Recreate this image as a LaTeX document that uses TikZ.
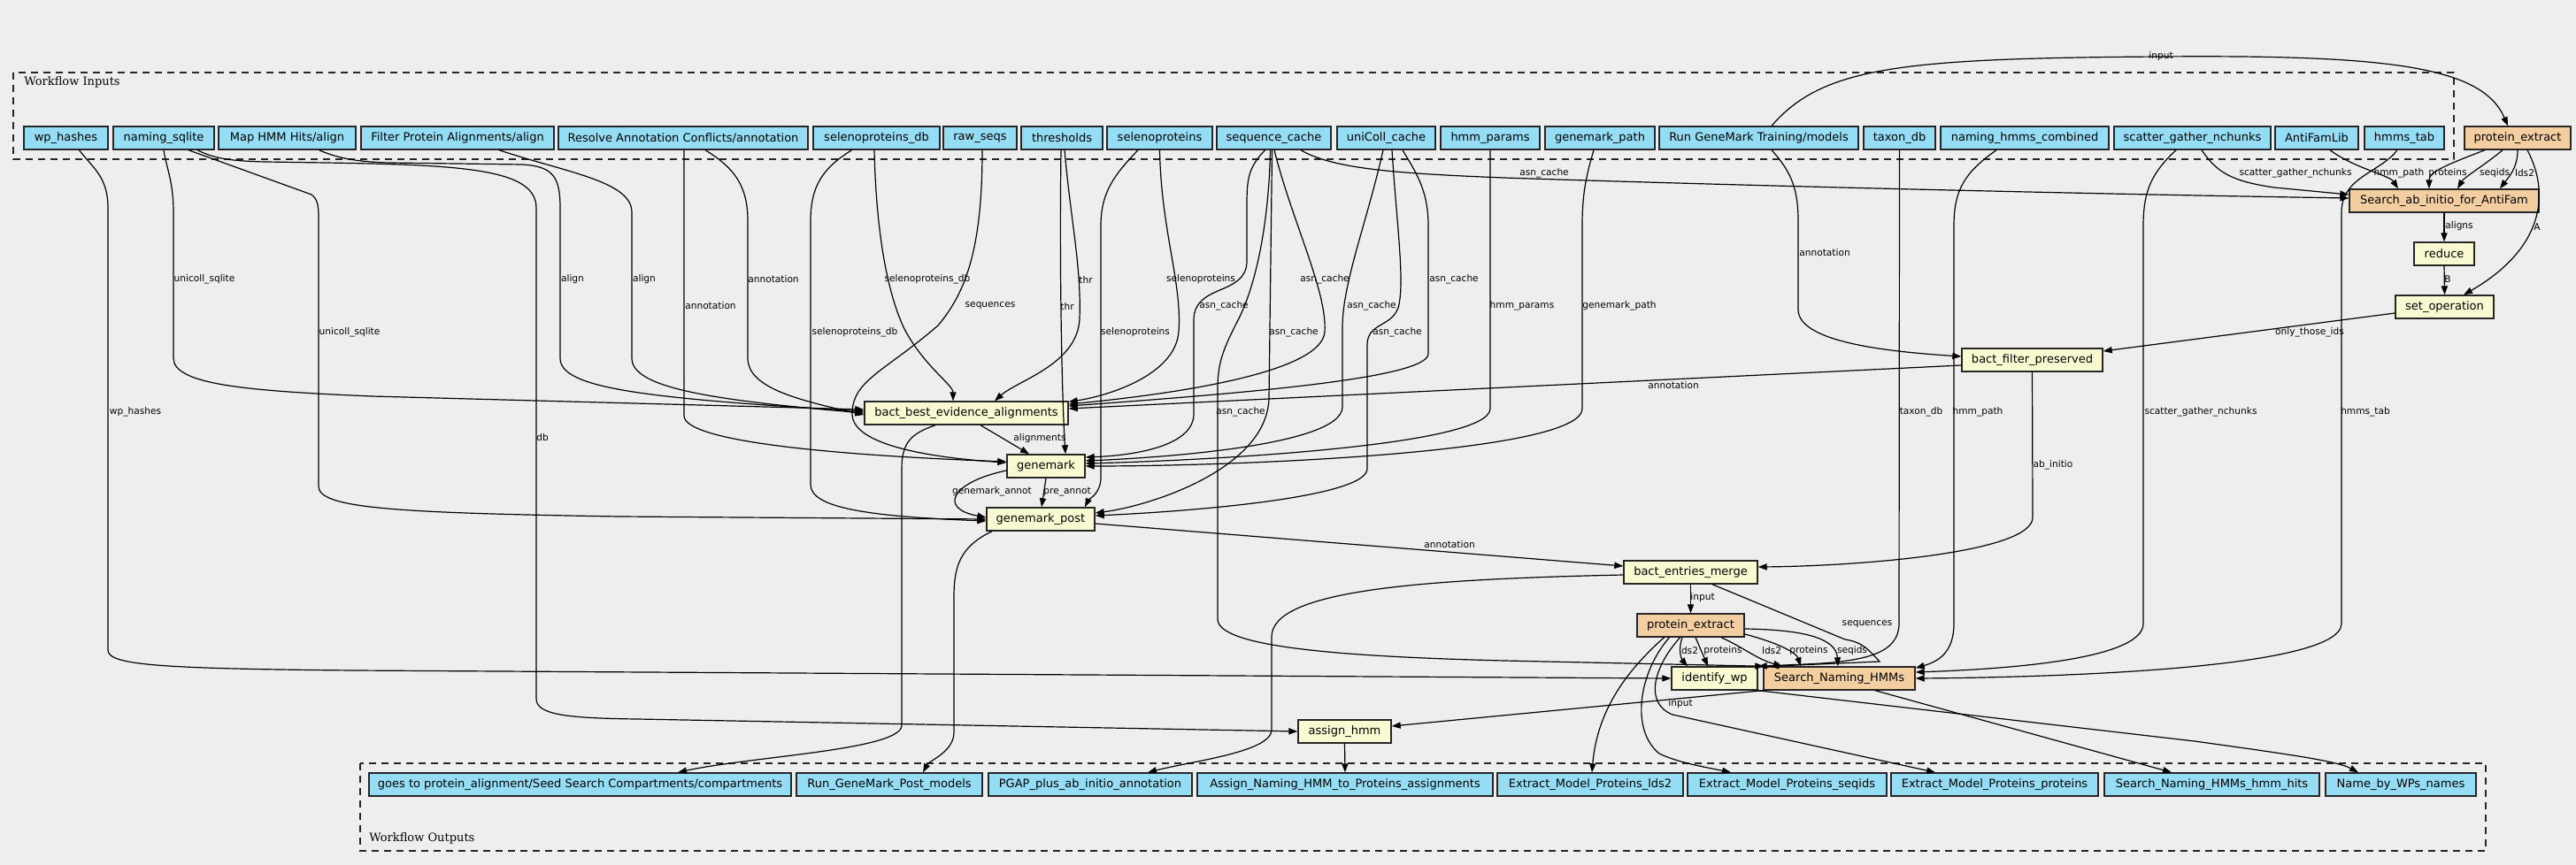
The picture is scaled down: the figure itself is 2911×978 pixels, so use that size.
\documentclass[tikz,border=0pt]{standalone}
\usepackage{fontspec}
\setmainfont{DejaVu Sans}
\newfontfamily\serfam{DejaVu Serif}
\usetikzlibrary{arrows.meta}
\definecolor{bgc}{HTML}{EEEEEE}
\definecolor{inblue}{HTML}{94DDF4}
\definecolor{stepy}{HTML}{FAFAD2}
\definecolor{subor}{HTML}{F3CEA1}
\newcommand\ndfont{\fontsize{6.5pt}{7pt}\selectfont}
\newcommand\lbfont{\fontsize{5.3pt}{6pt}\selectfont}
\newcommand\clfont{\serfam\fontsize{6.5pt}{7pt}\selectfont}
\newcommand\mkbox[6]{%
  \pgfmathsetmacro\bw{(#4-#3)*0.5}%
  \pgfmathsetmacro\bcx{(#3+#4)/2}%
  \node[#1, minimum width=\bw pt, minimum height=13pt] (#2) at (\bcx,#5) {#6};}
\begin{document}
\begin{tikzpicture}[x=0.5pt,y=-0.5pt,
  boxbase/.style={draw=black!85, line width=0.7pt, inner sep=0pt, font=\ndfont, text=black},
  inb/.style={boxbase, fill=inblue},
  stp/.style={boxbase, fill=stepy},
  sub/.style={boxbase, fill=subor},
  lbl/.style={inner sep=0pt, font=\lbfont},
  clus/.style={draw=black!85, line width=0.8pt, dash pattern=on 4pt off 3pt},
  clbl/.style={inner sep=0pt, font=\clfont, anchor=west},
  e/.style={draw=black, line width=0.6pt, -{Triangle[length=5pt,width=3.6pt]}}]
\useasboundingbox (0,0) rectangle (2911,978);
\fill[bgc] (0,0) rectangle (2911,978);
% clusters
\draw[clus] (15,82) rectangle (2773,180);
\node[clbl] (cin) at (27,93) {Workflow Inputs};
\draw[clus] (407,863) rectangle (2809,962);
\node[clbl] (cout) at (417,948) {Workflow Outputs};
% inputs
\mkbox{inb}{wp}{27}{122}{156}{wp\_hashes}
\mkbox{inb}{nsq}{128}{242}{156}{naming\_sqlite}
\mkbox{inb}{mhh}{247}{402}{156}{Map HMM Hits/align}
\mkbox{inb}{fpa}{408}{626}{156}{Filter Protein Alignments/align}
\mkbox{inb}{rac}{631}{913}{156}{Resolve Annotation Conflicts/annotation}
\mkbox{inb}{sdb}{919}{1062}{156}{selenoproteins\_db}
\mkbox{inb}{raw}{1066}{1149}{156}{raw\_seqs}
\mkbox{inb}{thr}{1154}{1246}{156}{thresholds}
\mkbox{inb}{sel}{1251}{1370}{156}{selenoproteins}
\mkbox{inb}{seqc}{1375}{1504}{156}{sequence\_cache}
\mkbox{inb}{uni}{1511}{1622}{156}{uniColl\_cache}
\mkbox{inb}{hmmp}{1628}{1740}{156}{hmm\_params}
\mkbox{inb}{gmp}{1746}{1870}{156}{genemark\_path}
\mkbox{inb}{rgm}{1875}{2100}{156}{Run GeneMark Training/models}
\mkbox{inb}{tax}{2106}{2187}{156}{taxon\_db}
\mkbox{inb}{nhc}{2193}{2383}{156}{naming\_hmms\_combined}
\mkbox{inb}{sgn}{2389}{2566}{156}{scatter\_gather\_nchunks}
\mkbox{inb}{afl}{2571}{2665}{156}{AntiFamLib}
\mkbox{inb}{hmt}{2672}{2762}{156}{hmms\_tab}
\mkbox{sub}{pe1}{2785}{2905}{156}{protein\_extract}
% steps
\mkbox{sub}{sab}{2655}{2869}{227}{Search\_ab\_initio\_for\_AntiFam}
\mkbox{stp}{red}{2728}{2796}{287}{reduce}
\mkbox{stp}{setop}{2707}{2818}{347}{set\_operation}
\mkbox{stp}{bfp}{2217}{2376}{407}{bact\_filter\_preserved}
\mkbox{stp}{bbea}{977}{1207}{467}{bact\_best\_evidence\_alignments}
\mkbox{stp}{gm}{1138}{1226}{527}{genemark}
\mkbox{stp}{gmp2}{1115}{1237}{587}{genemark\_post}
\mkbox{stp}{bem}{1835}{1986}{647}{bact\_entries\_merge}
\mkbox{sub}{pe2}{1850}{1971}{707}{protein\_extract}
\mkbox{stp}{iwp}{1889}{1986}{767}{identify\_wp}
\mkbox{sub}{snh}{1993}{2164}{767}{Search\_Naming\_HMMs}
\mkbox{stp}{ahmm}{1467}{1572}{827}{assign\_hmm}
% outputs
\mkbox{inb}{o1}{417}{894}{887}{goes to protein\_alignment/Seed Search Compartments/compartments}
\mkbox{inb}{o2}{900}{1110}{887}{Run\_GeneMark\_Post\_models}
\mkbox{inb}{o3}{1117}{1347}{887}{PGAP\_plus\_ab\_initio\_annotation}
\mkbox{inb}{o4}{1353}{1687}{887}{Assign\_Naming\_HMM\_to\_Proteins\_assignments}
\mkbox{inb}{o5}{1692}{1902}{887}{Extract\_Model\_Proteins\_lds2}
\mkbox{inb}{o6}{1907}{2132}{887}{Extract\_Model\_Proteins\_seqids}
\mkbox{inb}{o7}{2137}{2371}{887}{Extract\_Model\_Proteins\_proteins}
\mkbox{inb}{o8}{2378}{2621}{887}{Search\_Naming\_HMMs\_hmm\_hits}
\mkbox{inb}{o9}{2628}{2798}{887}{Name\_by\_WPs\_names}
% edges
\draw[e] ([xshift=7.5pt]wp.south) .. controls (105,190) and (122,200) .. (122,235) -- (122,735) .. controls (122,752) and (180,756) .. (400,758) -- (iwp.west);
\draw[e] (nsq.south) .. controls (188,190) and (196,205) .. (196,240) -- (196,405) .. controls (196,435) and (280,442) .. (420,448) -- ([yshift=2pt]bbea.west);
\draw[e] ([xshift=14pt]nsq.south) -- (352,220) .. controls (358,225) and (360,230) .. (360,245) -- (360,550) .. controls (360,575) and (450,580) .. (700,584) -- (gmp2.west);
\draw[e] ([xshift=19pt]nsq.south) .. controls (240,178) and (255,182) .. (300,183) .. controls (500,186) and (606,185) .. (606,235) -- (606,790) .. controls (606,808) and (640,812) .. (720,813) -- (ahmm.west);
\draw[e] ([xshift=18pt]mhh.south) .. controls (380,178) and (400,183) .. (440,184) -- (590,186) .. controls (625,188) and (633,200) .. (633,235) -- (633,405) .. controls (633,438) and (720,450) .. ([yshift=1pt]bbea.west);
\draw[e] ([xshift=23.5pt]fpa.south) .. controls (640,195) and (714,205) .. (714,240) -- (714,405) .. controls (714,438) and (800,452) .. (bbea.west);
\draw[e] ([xshift=0.5pt]rac.south) -- (773,470) .. controls (773,500) and (950,515) .. ([yshift=2.5pt]gm.west);
\draw[e] ([xshift=12.5pt]rac.south) .. controls (830,190) and (845,210) .. (845,250) -- (845,405) .. controls (845,438) and (900,452) .. ([yshift=-1pt]bbea.west);
\draw[e] ([xshift=-14pt]sdb.south) .. controls (930,190) and (916,210) .. (916,250) -- (916,548) .. controls (916,574) and (980,584) .. ([yshift=-1pt]gmp2.west);
\draw[e] ([xshift=-1.25pt]sdb.south) .. controls (990,260) and (1002,330) .. (1022,372) .. controls (1045,415) and (1077,435) .. ([xshift=-7.5pt]bbea.north);
\draw[e] ([xshift=1.25pt]raw.south) .. controls (1110,280) and (1092,330) .. (1060,368) .. controls (1000,420) and (963,430) .. (963,468) .. controls (963,505) and (1060,518) .. ([yshift=2pt]gm.west);
\draw[e] ([xshift=1.5pt]thr.south) .. controls (1210,250) and (1222,300) .. (1220,360) .. controls (1218,412) and (1150,430) .. ([xshift=16pt]bbea.north);
\draw[e] ([xshift=-0.5pt]thr.south) .. controls (1197,300) and (1200,450) .. ([xshift=11pt]gm.north);
\draw[e] ([xshift=-12.25pt]sel.south) .. controls (1262,195) and (1244,215) .. (1244,255) -- (1244,540) .. controls (1244,558) and (1230,565) .. ([xshift=25pt]gmp2.north);
\draw[e] (sel.south) .. controls (1312,260) and (1336,320) .. (1332,375) .. controls (1328,425) and (1250,448) .. ([yshift=-0.5pt]bbea.north east);
\draw[e] ([xshift=15.25pt]seqc.south) .. controls (1505,190) and (1570,196) .. (1700,201) .. controls (2000,211) and (2400,220) .. ([yshift=1.5pt]sab.west);
\draw[e] ([xshift=0.25pt]seqc.south) .. controls (1460,250) and (1500,330) .. (1497,375) .. controls (1494,425) and (1300,448) .. ([yshift=5pt]bbea.east);
\draw[e] ([xshift=-5pt]seqc.south) .. controls (1412,188) and (1409,200) .. (1409,230) -- (1409,295) .. controls (1409,335) and (1349,320) .. (1349,362) -- (1349,468) .. controls (1349,505) and (1280,515) .. ([yshift=5pt]gm.east);
\draw[e] ([xshift=-2pt]seqc.south) .. controls (1434,250) and (1420,320) .. (1400,360) .. controls (1382,395) and (1376,410) .. (1376,440) -- (1376,700) .. controls (1376,730) and (1500,742) .. (1700,747) -- ([xshift=0.5pt]snh.north west);
\draw[e] ([xshift=-1pt]seqc.south) -- (1434,450) .. controls (1432,530) and (1300,572) .. ([yshift=3.5pt]gmp2.east);
\draw[e] ([xshift=-1.75pt]uni.south) .. controls (1545,250) and (1517,320) .. (1517,370) -- (1517,460) .. controls (1517,505) and (1300,518) .. ([yshift=3pt]gm.east);
\draw[e] ([xshift=3.25pt]uni.south) .. controls (1578,250) and (1588,320) .. (1580,348) .. controls (1572,370) and (1545,365) .. (1545,390) -- (1545,530) .. controls (1545,562) and (1350,578) .. ([yshift=2pt]gmp2.east);
\draw[e] ([xshift=9.25pt]uni.south) .. controls (1600,195) and (1614,215) .. (1614,255) -- (1614,400) .. controls (1614,428) and (1400,445) .. ([yshift=4pt]bbea.east);
\draw[e] (hmmp.south) -- (1684,462) .. controls (1684,505) and (1350,521) .. ([yshift=1.5pt]gm.east);
\draw[e] ([xshift=-3.5pt]gmp.south) .. controls (1792,200) and (1788,220) .. (1788,255) -- (1788,462) .. controls (1788,512) and (1400,527) .. (gm.east);
\draw[e] ([xshift=7.25pt]rgm.north) .. controls (2060,75) and (2150,66) .. (2442,64) .. controls (2700,62) and (2805,75) .. ([xshift=-5.5pt]pe1.north);
\draw[e] ([xshift=7.25pt]rgm.south) .. controls (2025,195) and (2032,215) .. (2032,250) -- (2032,350) .. controls (2032,388) and (2140,398) .. ([yshift=2pt]bfp.west);
\draw[e] (tax.south) -- (2146,705) .. controls (2146,738) and (2110,748) .. (2040,751) -- (iwp.north east);
\draw[e] ([xshift=-16pt]nhc.south) .. controls (2220,195) and (2208,215) .. (2208,255) -- (2208,705) .. controls (2208,738) and (2190,748) .. ([yshift=-1pt]snh.north east);
\draw[e] ([xshift=-9.25pt]sgn.south) .. controls (2432,195) and (2422,215) .. (2422,255) -- (2422,705) .. controls (2422,748) and (2250,757) .. ([yshift=3.5pt]snh.east);
\draw[e] ([xshift=-4pt]hmt.south) .. controls (2690,195) and (2646,200) .. (2646,240) -- (2646,705) .. controls (2646,758) and (2300,766) .. (snh.east);
\draw[e] ([xshift=5.25pt]sgn.south) .. controls (2505,195) and (2522,205) .. (2570,212) -- ([yshift=3.5pt]sab.west);
\draw[e] ([xshift=7.5pt]afl.south) .. controls (2660,190) and (2700,198) .. ([xshift=-26pt]sab.north);
\draw[e] ([xshift=-18.5pt]pe1.south) .. controls (2760,188) and (2745,195) .. ([xshift=-8.5pt]sab.north);
\draw[e] ([xshift=-8.5pt]pe1.south) .. controls (2810,185) and (2785,200) .. ([xshift=7.5pt]sab.north);
\draw[e] (pe1.south) .. controls (2845,190) and (2835,200) .. ([xshift=31.5pt]sab.north);
\draw[e] ([xshift=5.5pt]pe1.south) .. controls (2885,225) and (2868,285) .. ([xshift=10.75pt]setop.north);
\draw[e] (sab.south) -- (red.north);
\draw[e] (red.south) -- (setop.north);
\draw[e] ([yshift=-3.5pt]setop.west) -- ([yshift=5pt]bfp.east);
\draw[e] ([yshift=-3pt]bfp.west) -- ([yshift=2.5pt]bbea.east);
\draw[e] (bfp.south) -- (2297,585) .. controls (2297,625) and (2100,640) .. ([yshift=3pt]bem.east);
\draw[e] ([xshift=8pt]bbea.south) -- ([xshift=-9.5pt]gm.north);
\draw[e] ([xshift=-17.5pt]bbea.south) .. controls (1030,490) and (1019,500) .. (1019,530) -- (1019,820) .. controls (1019,848) and (850,855) .. ([xshift=55.25pt]o1.north);
\draw[e] ([yshift=-2.5pt]gm.west) .. controls (1075,545) and (1060,575) .. ([yshift=1pt]gmp2.west);
\draw[e] (gm.south) -- ([xshift=0.5pt]gmp2.north);
\draw[e] ([yshift=-2.5pt]gmp2.east) -- ([yshift=3.5pt]bem.west);
\draw[e] ([xshift=-27.5pt]gmp2.south) .. controls (1085,618) and (1078,640) .. (1078,675) -- (1078,828) .. controls (1078,850) and (1050,860) .. ([xshift=19pt]o2.north);
\draw[e] (bem.south) -- (pe2.north);
\draw[e] ([xshift=12.25pt]bem.south) -- (2085,723) .. controls (2105,726) and (2112,735) .. (2124,748) -- ([xshift=4pt]snh.north west);
\draw[e] ([xshift=-4.75pt]pe2.south) .. controls (1896,735) and (1900,745) .. ([xshift=-15.25pt]iwp.north);
\draw[e] ([xshift=2.75pt]pe2.south) -- ([xshift=-3.75pt]iwp.north);
\draw[e] ([xshift=17.25pt]pe2.south) .. controls (1970,732) and (1985,745) .. ([xshift=-32.25pt]snh.north);
\draw[e] ([yshift=-5pt]pe2.east) .. controls (2010,727) and (2030,738) .. ([xshift=-21.75pt]snh.north);
\draw[e] ([yshift=-2pt]pe2.east) .. controls (2040,712) and (2075,722) .. ([xshift=-0.75pt]snh.north);
\draw[e] ([xshift=-15pt]pe2.south) .. controls (1842,755) and (1805,800) .. ([xshift=1pt]o5.north);
\draw[e] ([xshift=-12pt]pe2.south) .. controls (1852,760) and (1842,825) .. (1875,852) .. controls (1895,862) and (1930,868) .. ([xshift=-31.75pt]o6.north);
\draw[e] ([xshift=-6pt]pe2.south) .. controls (1868,755) and (1858,795) .. (1890,808) -- ([xshift=-33.5pt]o7.north);
\draw[e] ([xshift=20.25pt]snh.south) -- ([xshift=-22.75pt]o8.north);
\draw[e] (iwp.south east) -- (2480,838) .. controls (2580,852) and (2640,860) .. ([xshift=-24pt]o9.north);
\draw[e] (snh.south west) -- ([yshift=3pt]ahmm.east);
\draw[e] (ahmm.south) -- (o4.north);
\draw[e] ([yshift=-1.5pt]bem.west) .. controls (1600,655) and (1437,668) .. (1437,720) -- (1437,825) .. controls (1437,850) and (1350,860) .. ([xshift=32.5pt]o3.north);
% edge labels
\node[lbl] (l1) at (2442,64) {input};
\node[lbl] (l2) at (1745,196) {asn\_cache};
\node[lbl] (l3) at (2594,196) {scatter\_gather\_nchunks};
\node[lbl] (l4) at (2711,196) {hmm\_path};
\node[lbl] (l5) at (2766,196) {proteins};
\node[lbl] (l6) at (2819,196) {seqids};
\node[lbl] (l7) at (2853,196) {lds2};
\node[lbl] (l8) at (2779,256) {aligns};
\node[lbl] (l9) at (2867,257) {A};
\node[lbl] (l10) at (2766,316) {B};
\node[lbl] (l11) at (2062,286) {annotation};
\node[lbl] (l12) at (2610,376) {only\_those\_ids};
\node[lbl] (l13) at (2171,466) {taxon\_db};
\node[lbl] (l14) at (2235,466) {hmm\_path};
\node[lbl] (l15) at (2487,466) {scatter\_gather\_nchunks};
\node[lbl] (l16) at (2673,466) {hmms\_tab};
\node[lbl] (l17) at (2320,526) {ab\_initio};
\node[lbl] (l18) at (2110,706) {sequences};
\node[lbl] (l19) at (1048,316) {selenoproteins\_db};
\node[lbl] (l20) at (1227,316) {thr};
\node[lbl] (l21) at (1357,316) {selenoproteins};
\node[lbl] (l22) at (1497,316) {asn\_cache};
\node[lbl] (l23) at (1643,316) {asn\_cache};
\node[lbl] (l24) at (1119,346) {sequences};
\node[lbl] (l25) at (1206,346) {thr};
\node[lbl] (l26) at (1383,346) {asn\_cache};
\node[lbl] (l27) at (1550,346) {asn\_cache};
\node[lbl] (l28) at (1720,346) {hmm\_params};
\node[lbl] (l29) at (1830,346) {genemark\_path};
\node[lbl] (l30) at (1283,376) {selenoproteins};
\node[lbl] (l31) at (1462,376) {asn\_cache};
\node[lbl] (l32) at (1579,376) {asn\_cache};
\node[lbl] (l33) at (1891,436) {annotation};
\node[lbl] (l34) at (1402,466) {asn\_cache};
\node[lbl] (l35) at (1175,496) {alignments};
\node[lbl] (l36) at (1121,556) {genemark\_annot};
\node[lbl] (l37) at (1206,556) {pre\_annot};
\node[lbl] (l38) at (1638,616) {annotation};
\node[lbl] (l39) at (231,316) {unicoll\_sqlite};
\node[lbl] (l40) at (647,316) {align};
\node[lbl] (l41) at (728,316) {align};
\node[lbl] (l42) at (874,316) {annotation};
\node[lbl] (l43) at (803,346) {annotation};
\node[lbl] (l44) at (395,376) {unicoll\_sqlite};
\node[lbl] (l45) at (966,376) {selenoproteins\_db};
\node[lbl] (l46) at (153,466) {wp\_hashes};
\node[lbl] (l47) at (613,495) {db};
\node[lbl] (l48) at (1924,676) {input};
\node[lbl] (l49) at (1908,736) {lds2};
\node[lbl] (l50) at (1947,736) {proteins};
\node[lbl] (l51) at (2002,736) {lds2};
\node[lbl] (l52) at (2044,736) {proteins};
\node[lbl] (l53) at (2093,736) {seqids};
\node[lbl] (l54) at (1899,796) {input};
\end{tikzpicture}
\end{document}
